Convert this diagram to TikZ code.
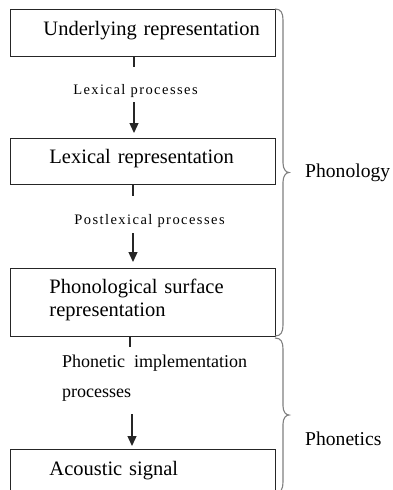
\documentclass[tikz,border=0pt]{standalone}
\usepackage{fontspec}
\setmainfont{Liberation Serif}
\newfontfamily\spaced[LetterSpace=10]{Liberation Serif}
\usetikzlibrary{arrows.meta}
\begin{document}
\begin{tikzpicture}[x=1pt,y=-1pt,
  box/.style={draw=black!85, line width=0.9pt, anchor=north west, inner ysep=0pt,
    align=left, font=\fontsize{20.5}{23.5}\selectfont},
  wide/.style={inner xsep=39pt, text width=187pt},
  lab/.style={inner sep=0pt, font=\spaced\fontsize{14.5}{17}\selectfont},
  stub/.style={line width=1.3pt, black!85},
  arr/.style={line width=1.3pt, black!85, -{Triangle[length=10pt,width=9pt]}},
  brace/.style={draw=black!50, line width=1.1pt},
  side/.style={anchor=base west, inner sep=0pt, font=\fontsize{19.6}{22}\selectfont}]
\useasboundingbox (0,0) rectangle (392,490);
\clip (0,0) rectangle (392,490);

% boxes
\node[box, inner xsep=33pt, text width=199pt, text height=26pt, text depth=21pt] (b1) at (10,9) {\mbox{Underlying representation}};
\node[box, wide, text height=25pt, text depth=21pt] (b2) at (10,138) {Lexical representation};
\node[box, wide, text height=25pt, text depth=43pt] (b3) at (10,268) {Phonological surface\\representation};
\node[box, wide, text height=26pt, text depth=18pt] (b4) at (10,449) {Acoustic signal};

% connector 1
\node[lab, anchor=base] (l1) at (135.5,94) {Lexical processes};
\coordinate (s1) at (134,67);
\coordinate (a1) at (134,102);
\draw[stub] (b1.south -| s1) -- (s1);
\draw[arr, shorten >=5pt] (a1) -- (b2.north -| a1);

% connector 2
\node[lab, anchor=base] (l2) at (149.5,224) {Postlexical processes};
\coordinate (s2) at (133,196);
\coordinate (a2) at (133,233);
\draw[stub] (b2.south -| s2) -- (s2);
\draw[arr, shorten >=6pt] (a2) -- (b3.north -| a2);

% connector 3
\node[anchor=north west, inner sep=0pt, align=left, font=\fontsize{18}{21.6}\selectfont] (l3) at (62,354.5) {Phonetic\ \ implementation\\[8.4pt]processes};
\coordinate (s3) at (130,347);
\coordinate (a3) at (132,414);
\draw[stub] (b3.south -| s3) -- (s3);
\draw[arr, shorten >=3pt] (a3) -- (b4.north -| a3);

% braces
\draw[brace] (275,9) .. controls (281,9) and (283,13) .. (283,20) -- (283,163)
  .. controls (283,169) and (286,172.5) .. (289,172.5)
  .. controls (286,172.5) and (283,176) .. (283,182) -- (283,325)
  .. controls (283,332) and (281,336) .. (275,336);
\draw[brace] (275,338) .. controls (281,338) and (283,342) .. (283,349) -- (283,406)
  .. controls (283,412) and (286,415) .. (289,415)
  .. controls (286,415) and (283,418) .. (283,424) -- (283,482)
  .. controls (283,489) and (281,493) .. (275,493);

\node[side] (ph) at (305,177) {Phonology};
\node[side] (pt) at (305,445) {Phonetics};
\end{tikzpicture}
\end{document}
